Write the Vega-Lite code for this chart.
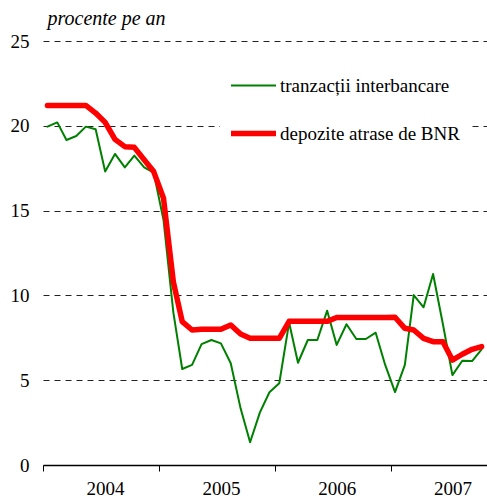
{
  "$schema": "https://vega.github.io/schema/vega-lite/v6.json",
  "autosize": "none",
  "width": 444,
  "height": 424,
  "padding": {"left": 43, "top": 41, "right": 0, "bottom": 34},
  "background": "white",
  "config": {
    "view": {"stroke": null},
    "font": "Liberation Serif, Times New Roman, serif",
    "axis": {"labelFont": "Liberation Serif, Times New Roman, serif", "titleFont": "Liberation Serif, Times New Roman, serif", "labelColor": "black", "titleColor": "black"},
    "legend": {"labelFont": "Liberation Serif, Times New Roman, serif", "labelColor": "black"}
  },
  "data": {
    "values": [
      {"date": "2004-01-15", "series": "tranzacții interbancare", "value": 19.95},
      {"date": "2004-02-15", "series": "tranzacții interbancare", "value": 20.2},
      {"date": "2004-03-15", "series": "tranzacții interbancare", "value": 19.16},
      {"date": "2004-04-15", "series": "tranzacții interbancare", "value": 19.4},
      {"date": "2004-05-15", "series": "tranzacții interbancare", "value": 19.95},
      {"date": "2004-06-15", "series": "tranzacții interbancare", "value": 19.8},
      {"date": "2004-07-15", "series": "tranzacții interbancare", "value": 17.3},
      {"date": "2004-08-15", "series": "tranzacții interbancare", "value": 18.34},
      {"date": "2004-09-15", "series": "tranzacții interbancare", "value": 17.55},
      {"date": "2004-10-15", "series": "tranzacții interbancare", "value": 18.24},
      {"date": "2004-11-15", "series": "tranzacții interbancare", "value": 17.55},
      {"date": "2004-12-15", "series": "tranzacții interbancare", "value": 17.24},
      {"date": "2005-01-15", "series": "tranzacții interbancare", "value": 14.45},
      {"date": "2005-02-15", "series": "tranzacții interbancare", "value": 9.0},
      {"date": "2005-03-15", "series": "tranzacții interbancare", "value": 5.66},
      {"date": "2005-04-15", "series": "tranzacții interbancare", "value": 5.9},
      {"date": "2005-05-15", "series": "tranzacții interbancare", "value": 7.13},
      {"date": "2005-06-15", "series": "tranzacții interbancare", "value": 7.37},
      {"date": "2005-07-15", "series": "tranzacții interbancare", "value": 7.17},
      {"date": "2005-08-15", "series": "tranzacții interbancare", "value": 6.0},
      {"date": "2005-09-15", "series": "tranzacții interbancare", "value": 3.34},
      {"date": "2005-10-15", "series": "tranzacții interbancare", "value": 1.34},
      {"date": "2005-11-15", "series": "tranzacții interbancare", "value": 3.1},
      {"date": "2005-12-15", "series": "tranzacții interbancare", "value": 4.29},
      {"date": "2006-01-15", "series": "tranzacții interbancare", "value": 4.82},
      {"date": "2006-02-15", "series": "tranzacții interbancare", "value": 8.4},
      {"date": "2006-03-15", "series": "tranzacții interbancare", "value": 6.03},
      {"date": "2006-04-15", "series": "tranzacții interbancare", "value": 7.37},
      {"date": "2006-05-15", "series": "tranzacții interbancare", "value": 7.37},
      {"date": "2006-06-15", "series": "tranzacții interbancare", "value": 9.1},
      {"date": "2006-07-15", "series": "tranzacții interbancare", "value": 7.08},
      {"date": "2006-08-15", "series": "tranzacții interbancare", "value": 8.3},
      {"date": "2006-09-15", "series": "tranzacții interbancare", "value": 7.43},
      {"date": "2006-10-15", "series": "tranzacții interbancare", "value": 7.43},
      {"date": "2006-11-15", "series": "tranzacții interbancare", "value": 7.8},
      {"date": "2006-12-15", "series": "tranzacții interbancare", "value": 5.9},
      {"date": "2007-01-15", "series": "tranzacții interbancare", "value": 4.3},
      {"date": "2007-02-15", "series": "tranzacții interbancare", "value": 5.9},
      {"date": "2007-03-15", "series": "tranzacții interbancare", "value": 10.02},
      {"date": "2007-04-15", "series": "tranzacții interbancare", "value": 9.3},
      {"date": "2007-05-15", "series": "tranzacții interbancare", "value": 11.26},
      {"date": "2007-06-15", "series": "tranzacții interbancare", "value": 8.3},
      {"date": "2007-07-15", "series": "tranzacții interbancare", "value": 5.3},
      {"date": "2007-08-15", "series": "tranzacții interbancare", "value": 6.15},
      {"date": "2007-09-15", "series": "tranzacții interbancare", "value": 6.13},
      {"date": "2007-10-15", "series": "tranzacții interbancare", "value": 6.82},
      {"date": "2004-01-15", "series": "depozite atrase de BNR", "value": 21.2},
      {"date": "2004-02-15", "series": "depozite atrase de BNR", "value": 21.2},
      {"date": "2004-03-15", "series": "depozite atrase de BNR", "value": 21.2},
      {"date": "2004-04-15", "series": "depozite atrase de BNR", "value": 21.2},
      {"date": "2004-05-15", "series": "depozite atrase de BNR", "value": 21.2},
      {"date": "2004-06-15", "series": "depozite atrase de BNR", "value": 20.75},
      {"date": "2004-07-15", "series": "depozite atrase de BNR", "value": 20.2},
      {"date": "2004-08-15", "series": "depozite atrase de BNR", "value": 19.2},
      {"date": "2004-09-15", "series": "depozite atrase de BNR", "value": 18.77},
      {"date": "2004-10-15", "series": "depozite atrase de BNR", "value": 18.73},
      {"date": "2004-11-15", "series": "depozite atrase de BNR", "value": 18.0},
      {"date": "2004-12-15", "series": "depozite atrase de BNR", "value": 17.3},
      {"date": "2005-01-15", "series": "depozite atrase de BNR", "value": 15.73},
      {"date": "2005-02-15", "series": "depozite atrase de BNR", "value": 10.8},
      {"date": "2005-03-15", "series": "depozite atrase de BNR", "value": 8.45},
      {"date": "2005-04-15", "series": "depozite atrase de BNR", "value": 7.96},
      {"date": "2005-05-15", "series": "depozite atrase de BNR", "value": 8.0},
      {"date": "2005-06-15", "series": "depozite atrase de BNR", "value": 8.0},
      {"date": "2005-07-15", "series": "depozite atrase de BNR", "value": 8.0},
      {"date": "2005-08-15", "series": "depozite atrase de BNR", "value": 8.25},
      {"date": "2005-09-15", "series": "depozite atrase de BNR", "value": 7.72},
      {"date": "2005-10-15", "series": "depozite atrase de BNR", "value": 7.47},
      {"date": "2005-11-15", "series": "depozite atrase de BNR", "value": 7.47},
      {"date": "2005-12-15", "series": "depozite atrase de BNR", "value": 7.47},
      {"date": "2006-01-15", "series": "depozite atrase de BNR", "value": 7.47},
      {"date": "2006-02-15", "series": "depozite atrase de BNR", "value": 8.47},
      {"date": "2006-03-15", "series": "depozite atrase de BNR", "value": 8.47},
      {"date": "2006-04-15", "series": "depozite atrase de BNR", "value": 8.47},
      {"date": "2006-05-15", "series": "depozite atrase de BNR", "value": 8.47},
      {"date": "2006-06-15", "series": "depozite atrase de BNR", "value": 8.47},
      {"date": "2006-07-15", "series": "depozite atrase de BNR", "value": 8.7},
      {"date": "2006-08-15", "series": "depozite atrase de BNR", "value": 8.7},
      {"date": "2006-09-15", "series": "depozite atrase de BNR", "value": 8.7},
      {"date": "2006-10-15", "series": "depozite atrase de BNR", "value": 8.7},
      {"date": "2006-11-15", "series": "depozite atrase de BNR", "value": 8.7},
      {"date": "2006-12-15", "series": "depozite atrase de BNR", "value": 8.7},
      {"date": "2007-01-15", "series": "depozite atrase de BNR", "value": 8.71},
      {"date": "2007-02-15", "series": "depozite atrase de BNR", "value": 8.06},
      {"date": "2007-03-15", "series": "depozite atrase de BNR", "value": 7.96},
      {"date": "2007-04-15", "series": "depozite atrase de BNR", "value": 7.47},
      {"date": "2007-05-15", "series": "depozite atrase de BNR", "value": 7.27},
      {"date": "2007-06-15", "series": "depozite atrase de BNR", "value": 7.27},
      {"date": "2007-07-15", "series": "depozite atrase de BNR", "value": 6.19},
      {"date": "2007-08-15", "series": "depozite atrase de BNR", "value": 6.53},
      {"date": "2007-09-15", "series": "depozite atrase de BNR", "value": 6.82},
      {"date": "2007-10-15", "series": "depozite atrase de BNR", "value": 6.98}
    ]
  },
  "mark": {"type": "line", "strokeJoin": "round", "strokeCap": "round"},
  "encoding": {
    "x": {
      "field": "date",
      "type": "temporal",
      "scale": {
        "type": "utc",
        "domain": [
          {"year": 2004, "month": 1, "date": 1, "utc": true},
          {"year": 2007, "month": 11, "date": 1, "utc": true}
        ]
      },
      "axis": {
        "title": null,
        "values": [
          {"year": 2004, "month": 1, "date": 1, "utc": true},
          {"year": 2005, "month": 1, "date": 1, "utc": true},
          {"year": 2006, "month": 1, "date": 1, "utc": true},
          {"year": 2007, "month": 1, "date": 1, "utc": true}
        ],
        "format": "%Y",
        "formatType": "utc",
        "grid": false,
        "domain": true,
        "domainColor": "black",
        "domainWidth": 1.3,
        "ticks": true,
        "tickColor": "black",
        "tickSize": 6,
        "tickWidth": 1,
        "labelOffset": 62,
        "labelAlign": "center",
        "labelFlush": false,
        "labelBound": false,
        "labelOverlap": false,
        "labelFontSize": 19,
        "labelPadding": 8
      }
    },
    "y": {
      "field": "value",
      "type": "quantitative",
      "scale": {"domain": [0, 25], "nice": false, "zero": true},
      "axis": {
        "title": "procente pe an",
        "titleAngle": 0,
        "titleX": 4,
        "titleY": -16.5,
        "titleAlign": "left",
        "titleBaseline": "alphabetic",
        "titleFontStyle": "italic",
        "titleFontWeight": "normal",
        "titleFontSize": 20,
        "values": [0, 5, 10, 15, 20, 25],
        "domain": false,
        "ticks": false,
        "grid": true,
        "gridColor": "#222222",
        "gridDash": [6, 5],
        "gridWidth": 1,
        "labelFontSize": 19,
        "labelPadding": 14
      }
    },
    "color": {
      "field": "series",
      "type": "nominal",
      "sort": ["tranzacții interbancare", "depozite atrase de BNR"],
      "scale": {
        "domain": ["tranzacții interbancare", "depozite atrase de BNR"],
        "range": ["#008000", "#ff0000"]
      },
      "legend": {
        "title": null,
        "orient": "none",
        "legendX": 177,
        "legendY": 13,
        "padding": 8,
        "fillColor": "white",
        "symbolType": "stroke",
        "symbolSize": 2025,
        "labelFontSize": 19,
        "labelOffset": 1,
        "rowPadding": 12,
        "labelLimit": 400
      }
    },
    "strokeWidth": {
      "field": "series",
      "type": "nominal",
      "sort": ["tranzacții interbancare", "depozite atrase de BNR"],
      "scale": {
        "domain": ["tranzacții interbancare", "depozite atrase de BNR"],
        "range": [2, 5.5]
      },
      "legend": {
        "title": null,
        "orient": "none",
        "legendX": 177,
        "legendY": 13,
        "padding": 8,
        "fillColor": "white",
        "symbolType": "stroke",
        "symbolSize": 2025,
        "labelFontSize": 19,
        "labelOffset": 1,
        "rowPadding": 12,
        "labelLimit": 400
      }
    }
  }
}
